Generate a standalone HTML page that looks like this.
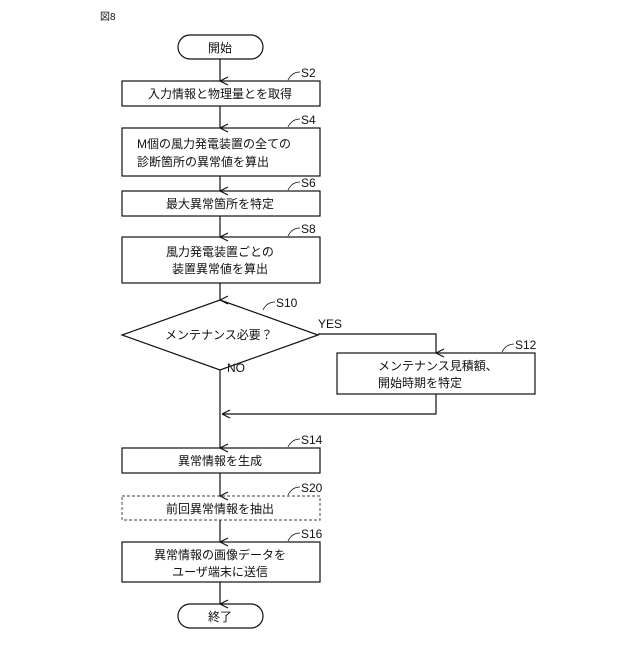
<!DOCTYPE html>
<html><head><meta charset="utf-8"><style>
body{margin:0;background:#fff}
svg text{font-family:"Liberation Sans","Noto Sans CJK JP",sans-serif;font-size:12px;fill:#111}
</style></head><body>
<svg width="640" height="640" viewBox="0 0 640 640" xmlns="http://www.w3.org/2000/svg">
<defs><marker id="a" markerWidth="10" markerHeight="10" refX="5" refY="9" orient="auto" markerUnits="userSpaceOnUse"><path d="M1,1 L5,9 L9,1" fill="none" stroke="#111" stroke-width="1.2"/></marker>
<marker id="l" markerWidth="10" markerHeight="10" refX="0" refY="5" orient="0" markerUnits="userSpaceOnUse"><path d="M8,1 L0,5 L8,9" fill="none" stroke="#111" stroke-width="1.2"/></marker></defs>
<g stroke="#111" stroke-width="1.2" fill="none">
<text x="100" y="20" stroke="none" style="font-size:10px">図8</text>
<rect x="178" y="35" width="85" height="24" rx="12" fill="#fff"/>
<rect x="122" y="81" width="198" height="25"/>
<rect x="122" y="128" width="198" height="48"/>
<rect x="122" y="191" width="198" height="25"/>
<rect x="122" y="237" width="198" height="46"/>
<polygon points="220,300 318,335 220,370 122,335"/>
<rect x="337" y="353" width="198" height="41"/>
<rect x="122" y="448" width="198" height="25"/>
<rect x="122" y="496" width="198" height="24" stroke-dasharray="3,2" stroke="#666"/>
<rect x="122" y="542" width="198" height="40"/>
<rect x="178" y="604" width="85" height="24" rx="12"/>
<line x1="220" y1="59" x2="220" y2="81" marker-end="url(#a)"/>
<line x1="220" y1="106" x2="220" y2="128" marker-end="url(#a)"/>
<line x1="220" y1="176" x2="220" y2="191" marker-end="url(#a)"/>
<line x1="220" y1="216" x2="220" y2="237" marker-end="url(#a)"/>
<line x1="220" y1="283" x2="220" y2="300" marker-end="url(#a)"/>
<polyline points="318,334 436,334 436,353" marker-end="url(#a)"/>
<polyline points="436,394 436,414 222,414" marker-end="url(#l)"/>
<line x1="220" y1="370" x2="220" y2="448" marker-end="url(#a)"/>
<line x1="220" y1="473" x2="220" y2="496" marker-end="url(#a)"/>
<line x1="220" y1="520" x2="220" y2="542" marker-end="url(#a)"/>
<line x1="220" y1="582" x2="220" y2="604" marker-end="url(#a)"/>
<g stroke-width="0.8">
<path d="M288,80 q4,-8 12,-8"/><path d="M288,127 q4,-8 12,-8"/><path d="M288,190 q4,-8 12,-8"/><path d="M288,236 q4,-8 12,-8"/>
<path d="M263,310 q4,-8 12,-8"/><path d="M502,352 q4,-8 12,-8"/><path d="M288,447 q4,-8 12,-8"/><path d="M288,495 q4,-8 12,-8"/><path d="M288,541 q4,-8 12,-8"/>
</g>
</g>
<g>
<text x="220" y="52" text-anchor="middle">開始</text>
<text x="220" y="98" text-anchor="middle">入力情報と物理量とを取得</text>
<text x="137" y="148">M個の風力発電装置の全ての</text>
<text x="137" y="166">診断箇所の異常値を算出</text>
<text x="220" y="208" text-anchor="middle">最大異常箇所を特定</text>
<text x="220" y="256" text-anchor="middle">風力発電装置ごとの</text>
<text x="220" y="273" text-anchor="middle">装置異常値を算出</text>
<text x="165" y="339">メンテナンス必要？</text>
<text x="378" y="370">メンテナンス見積額、</text>
<text x="378" y="387">開始時期を特定</text>
<text x="220" y="465" text-anchor="middle">異常情報を生成</text>
<text x="220" y="513" text-anchor="middle">前回異常情報を抽出</text>
<text x="220" y="559" text-anchor="middle">異常情報の画像データを</text>
<text x="220" y="576" text-anchor="middle">ユーザ端末に送信</text>
<text x="220" y="621" text-anchor="middle">終了</text>
<text x="318" y="328">YES</text><text x="227" y="372">NO</text>
<text x="301" y="77">S2</text><text x="301" y="124">S4</text><text x="301" y="187">S6</text><text x="301" y="233">S8</text>
<text x="276" y="307">S10</text><text x="515" y="349">S12</text><text x="301" y="444">S14</text><text x="301" y="492">S20</text><text x="301" y="538">S16</text>
</g>
</svg></body></html>
